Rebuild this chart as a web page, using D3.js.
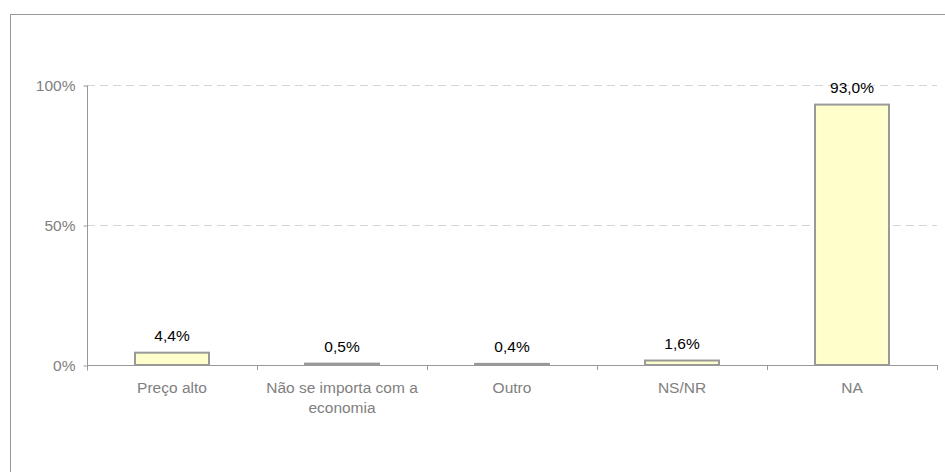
<!DOCTYPE html>
<html>
<head>
<meta charset="utf-8">
<script src="https://cdn.jsdelivr.net/npm/d3@7"></script>
<style>
  body { margin: 0; background: #fff; }
  svg { display: block; font-family: "Liberation Sans", Arial, sans-serif; }
</style>
</head>
<body>
<svg id="chart" width="945" height="472"></svg>
<script>
const categories = ["Preço alto", "Não se importa com a economia", "Outro", "NS/NR", "NA"];
const values = [4.4, 0.5, 0.4, 1.6, 93.0];
const yTicks = [0, 50, 100];

const svg = d3.select("#chart");
const margin = { left: 87, right: 8, top: 85, bottom: 107 };
const width = 945, height = 472;

// outer frame, cut off at the right and bottom like the source picture
svg.append("rect")
    .attr("x", 10.5).attr("y", 14.5)
    .attr("width", 960).attr("height", 480)
    .attr("fill", "none")
    .attr("stroke", "#999")
    .attr("stroke-width", 1);

const x = d3.scaleBand()
    .domain(categories)
    .range([margin.left, 937])
    .paddingInner(0.565)
    .paddingOuter(0.2825);

const y = d3.scaleLinear()
    .domain([0, 100])
    .range([365, 85]);

// gridlines
svg.append("g")
    .selectAll("line")
    .data(yTicks.filter(t => t > 0))
    .enter()
    .append("line")
    .attr("x1", margin.left).attr("x2", 937)
    .attr("y1", d => Math.round(y(d)) + 0.5)
    .attr("y2", d => Math.round(y(d)) + 0.5)
    .attr("stroke", "#d4d4d4")
    .attr("stroke-dasharray", "8,5");

// y axis
const yAxis = svg.append("g")
    .attr("transform", `translate(${margin.left + 0.5},0.5)`)
    .call(d3.axisLeft(y).tickValues(yTicks).tickSize(4).tickFormat(d => d + "%"));
yAxis.select(".domain").attr("stroke", "#999").attr("d", "M0,85V370");
yAxis.selectAll(".tick line").attr("stroke", "#999");
yAxis.selectAll(".tick text")
    .attr("fill", "#808080")
    .style("font-size", "15.5px")
    .attr("x", -12)
    .attr("dy", "0.35em");

// x axis: line plus ticks at band boundaries
const xAxis = svg.append("g");
xAxis.append("line")
    .attr("x1", margin.left).attr("x2", 937)
    .attr("y1", 365.5).attr("y2", 365.5)
    .attr("stroke", "#999");
const bounds = categories.map(c => x(c) - x.step() * x.paddingInner() / 2 + x.step());
xAxis.selectAll(".xtick")
    .data(bounds)
    .enter()
    .append("line")
    .attr("x1", d => Math.round(d) + 0.5)
    .attr("x2", d => Math.round(d) + 0.5)
    .attr("y1", 365).attr("y2", 370)
    .attr("stroke", "#999");

// category labels, wrapped to the band width
xAxis.selectAll(".xlabel")
    .data(categories)
    .enter()
    .append("text")
    .attr("class", "xlabel")
    .attr("x", d => x(d) + x.bandwidth() / 2)
    .attr("y", 393)
    .attr("text-anchor", "middle")
    .attr("fill", "#808080")
    .style("font-size", "15.5px")
    .each(function (d) {
        const text = d3.select(this);
        const words = d.split(" ");
        const maxW = x.step() - 10;
        let line = [];
        let lineNo = 0;
        let tspan = text.append("tspan").attr("x", text.attr("x")).attr("dy", 0);
        words.forEach(function (w) {
            line.push(w);
            tspan.text(line.join(" "));
            if (tspan.node().getComputedTextLength() > maxW && line.length > 1) {
                line.pop();
                tspan.text(line.join(" "));
                line = [w];
                lineNo++;
                tspan = text.append("tspan")
                    .attr("x", text.attr("x"))
                    .attr("dy", 20)
                    .text(w);
            }
        });
    });

// bars
svg.append("g")
    .selectAll("rect")
    .data(values)
    .enter()
    .append("rect")
    .attr("x", (d, i) => x(categories[i]))
    .attr("y", d => y(d))
    .attr("width", x.bandwidth())
    .attr("height", d => y(0) - y(d))
    .attr("fill", "#ffffcc")
    .attr("stroke", "#999")
    .attr("stroke-width", 2);

// value labels
svg.append("g")
    .selectAll("text")
    .data(values)
    .enter()
    .append("text")
    .attr("x", (d, i) => x(categories[i]) + x.bandwidth() / 2)
    .attr("y", d => y(d) - 12)
    .attr("text-anchor", "middle")
    .attr("fill", "#000")
    .style("font-size", "15.5px")
    .text(d => d.toFixed(1).replace(".", ",") + "%");
</script>
</body>
</html>
